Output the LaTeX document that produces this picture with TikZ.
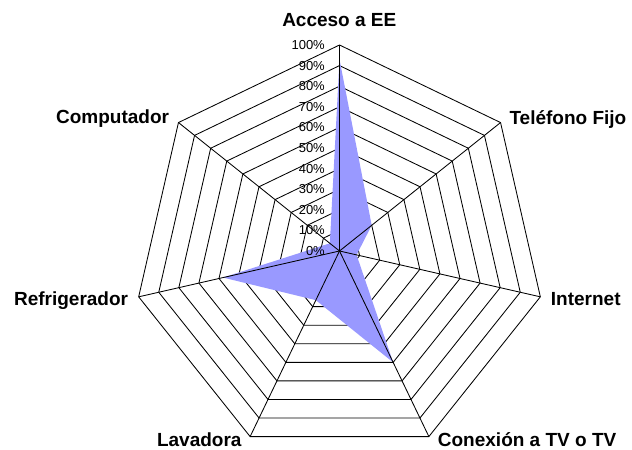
\documentclass[tikz,border=0pt]{standalone}
\usepackage{fontspec}
\setmainfont{Liberation Sans}
\begin{document}
\begin{tikzpicture}[x=1bp,y=1bp,
  ring/.style={draw=black,line width=0.85bp},
  spoke/.style={draw=black,line width=0.85bp},
  datafill/.style={fill=dataBlue,draw=none},
  catlabel/.style={inner sep=0pt,font=\fontsize{19bp}{22bp}\selectfont\bfseries},
  pctlabel/.style={inner sep=0pt,anchor=east,font=\fontsize{13bp}{15bp}\selectfont}]
\definecolor{dataBlue}{RGB}{153,153,255}
\useasboundingbox (0,0) rectangle (632,450);
\def\R{206}
\coordinate (O) at (339.5,199);
\begin{scope}[shift={(O)}]
  % rings
  \foreach \i in {1,...,10}{
    \draw[ring] (90:{\i*\R/10}) -- (38.5714:{\i*\R/10}) -- (-12.8571:{\i*\R/10})
      -- (-64.2857:{\i*\R/10}) -- (-115.7143:{\i*\R/10}) -- (-167.1429:{\i*\R/10})
      -- (141.4286:{\i*\R/10}) -- cycle;
  }
  % data polygon
  \fill[datafill] (90:{0.93*\R}) -- (38.5714:{0.20*\R}) -- (-12.8571:{0.085*\R})
    -- (-64.2857:{0.60*\R}) -- (-115.7143:{0.265*\R}) -- (-167.1429:{0.58*\R})
    -- (141.4286:{0.06*\R}) -- cycle;
  % axis end points
  \coordinate (v0) at (90:\R);
  \coordinate (v1) at (38.5714:\R);
  \coordinate (v2) at (-12.8571:\R);
  \coordinate (v3) at (-64.2857:\R);
  \coordinate (v4) at (-115.7143:\R);
  \coordinate (v5) at (-167.1429:\R);
  \coordinate (v6) at (141.4286:\R);
\end{scope}
\foreach \k in {0,...,6}{ \draw[spoke] (O) -- (v\k); }
% percent labels
\foreach \i in {0,...,10}{
  \node[pctlabel] (p\i) at (325,{199+\i*\R/10}) {\pgfmathtruncatemacro\pc{\i*10}\pc\%};
}
% category labels
\node[catlabel,anchor=base] (acceso) at (339.3,423) {Acceso a EE};
\node[catlabel,anchor=base west] (tel) at (509.3,325) {Teléfono Fijo};
\node[catlabel,anchor=base west] (inet) at (550.7,144) {Internet};
\node[catlabel,anchor=base west] (conex) at (437.7,3) {Conexión a TV o TV};
\node[catlabel,anchor=base east] (lav) at (241.7,3) {Lavadora};
\node[catlabel,anchor=base east] (refri) at (128.3,144) {Refrigerador};
\node[catlabel,anchor=base east] (comp) at (169.3,326) {Computador};
\end{tikzpicture}
\end{document}
